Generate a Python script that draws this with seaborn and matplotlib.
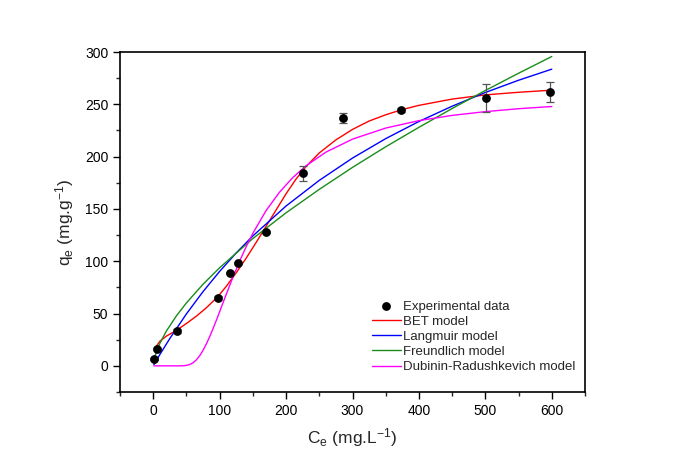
import numpy as np
import pandas as pd
import matplotlib
matplotlib.use("Agg")
import matplotlib.pyplot as plt
import seaborn as sns
from matplotlib.ticker import MultipleLocator

# Experimental data
ce_exp = [1, 5, 36, 97, 116, 128, 170, 225, 286, 373, 501, 598]
qe_exp = [6.4, 16, 33, 65, 88.5, 98.7, 128.3, 184, 236.5, 244.5, 256, 262]
qe_err = [1, 1, 2, 2, 1, 1, 1, 7.5, 4.8, 2, 13.5, 9.8]

# BET model curve
bet_c = [5, 10, 20, 35, 50, 65, 80, 97, 110, 125, 140, 155, 170, 185, 200, 215,
         230, 250, 275, 300, 325, 350, 375, 400, 450, 500, 550, 600]
bet_q = [19, 23.5, 28.5, 34, 40.5, 47.5, 55.5, 66, 76, 89, 103, 118, 133.5, 149,
         164.5, 178.5, 190.5, 203.5, 216, 226, 234, 240, 245, 249, 255, 259, 261.5, 263.5]

# Langmuir model curve
lang_c = [1, 10, 25, 50, 75, 100, 125, 150, 200, 250, 300, 350, 400, 450, 500, 550, 600]
lang_q = [1.1, 10.8, 26.15, 49.68, 70.96, 90.31, 107.97, 124.2, 152.8, 177.3, 198.6,
          217.2, 233.6, 248.2, 261.3, 273.0, 283.6]

# Freundlich model curve
freu_c = [3, 5, 10, 20, 35, 50, 75, 100, 150, 200, 250, 300, 350, 400, 450, 500, 550, 600]
freu_q = [9.9, 13.75, 21.44, 33.44, 47.86, 60.17, 78.0, 93.8, 121.7, 146.3, 168.7,
          189.7, 209.4, 228.0, 246.0, 263.2, 279.7, 295.7]

# Dubinin-Radushkevich model curve
dr_c = [1, 30, 40, 45, 50, 55, 60, 65, 70, 75, 80, 85, 90, 95, 100, 110, 120, 130, 140,
        150, 170, 190, 210, 230, 260, 300, 350, 400, 450, 500, 550, 600]
dr_q = [0, 0, 0.01, 0.09, 0.41, 1.26, 2.96, 5.74, 9.7, 14.8, 20.94, 27.9, 35.5, 43.5,
        51.8, 68.5, 84.7, 99.9, 114.0, 126.7, 148.5, 165.9, 179.9, 191.2, 204.3, 216.7,
        227.3, 234.4, 239.4, 243.0, 245.8, 247.9]

x_ticks = [0, 100, 200, 300, 400, 500, 600]
y_ticks = [0, 50, 100, 150, 200, 250, 300]

sns.set_style("ticks")
plt.rcParams['font.family'] = ['Liberation Sans', 'DejaVu Sans']
plt.rcParams['mathtext.fontset'] = 'custom'
plt.rcParams['mathtext.rm'] = 'Liberation Sans'
plt.rcParams['mathtext.it'] = 'Liberation Sans'

fig = plt.figure(figsize=(6.77, 4.72), dpi=100)
ax = fig.add_axes([120/677, 80/472, 465/677, 340/472])

ax.errorbar(ce_exp, qe_exp, yerr=qe_err, fmt='none', ecolor='#555555',
            elinewidth=0.9, capsize=3, capthick=0.9, zorder=4)
sns.scatterplot(x=ce_exp, y=qe_exp, ax=ax, color='black', s=40, edgecolor='black',
                linewidth=0, label='Experimental data', zorder=5)

curves = [
    (bet_c, bet_q, '#ff0000', 'BET model'),
    (lang_c, lang_q, '#0000ff', 'Langmuir model'),
    (freu_c, freu_q, '#1a8c1a', 'Freundlich model'),
    (dr_c, dr_q, '#ff00ff', 'Dubinin-Radushkevich model'),
]
for c, q, col, lab in curves:
    df = pd.DataFrame({'c': c, 'q': q})
    sns.lineplot(data=df, x='c', y='q', ax=ax, color=col, lw=1.0, label=lab,
                 sort=False, estimator=None, zorder=3)

ax.set_xlim(-50, 650)
ax.set_ylim(-25, 300)
ax.set_xticks(x_ticks)
ax.set_yticks(y_ticks)
ax.xaxis.set_minor_locator(MultipleLocator(50))
ax.yaxis.set_minor_locator(MultipleLocator(25))
ax.tick_params(which='major', direction='out', length=5, width=1, labelsize=10, colors='black')
ax.tick_params(which='minor', direction='out', length=3, width=1)
for s in ax.spines.values():
    s.set_visible(True)
    s.set_linewidth(1.2)
    s.set_color('black')

ax.set_xlabel(r'C$_\mathregular{e}$ (mg.L$^\mathregular{-1}$)', fontsize=12.5, labelpad=6)
ax.set_ylabel(r'q$_\mathregular{e}$ (mg.g$^\mathregular{-1}$)', fontsize=12.5, labelpad=6)

leg = ax.legend(loc='upper left', bbox_to_anchor=(0.53, 0.285), frameon=False,
                fontsize=9.5, handlelength=2.2, handletextpad=0.2,
                labelspacing=0.22, borderaxespad=0)

fig.savefig('out.png', dpi=100)
